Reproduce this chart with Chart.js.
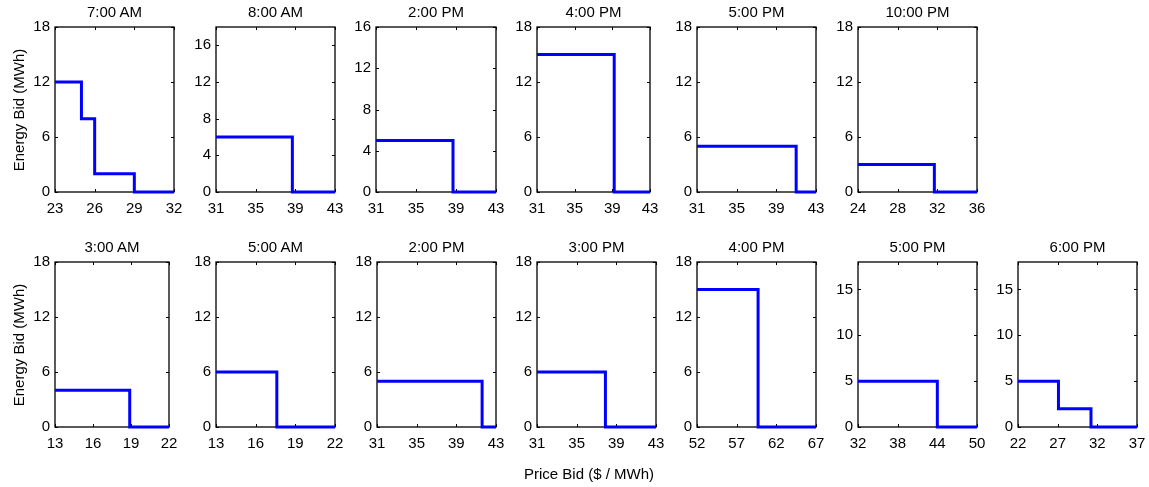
<!DOCTYPE html>
<html>
<head>
<meta charset="utf-8">
<script src="https://cdn.jsdelivr.net/npm/chart.js@4.4.0/dist/chart.umd.min.js"></script>
<style>
body { margin:0; background:#fff; width:1149px; height:487px; position:relative; overflow:hidden; font-family:"Liberation Sans", Arial, sans-serif; }
.lbl { position:absolute; font-size:15px; color:#000; white-space:nowrap; transform:translate(-50%,-50%); }
canvas { position:absolute; }
</style>
</head>
<body>
<script>
// panels: top row (6) then bottom row (7)
var titles = ['7:00 AM', '8:00 AM', '2:00 PM', '4:00 PM', '5:00 PM', '10:00 PM',
              '3:00 AM', '5:00 AM', '2:00 PM', '3:00 PM', '4:00 PM', '5:00 PM', '6:00 PM'];

// price bid steps ($/MWh) and energy bid (MWh) held until the next price
var prices = [
    [23, 25, 26, 29, 32],
    [31, 38.7, 43],
    [31, 38.7, 43],
    [31, 39.2, 43],
    [31, 41, 43],
    [24, 31.7, 36],
    [13, 18.9, 22],
    [13, 17.6, 22],
    [31, 41.6, 43],
    [31, 37.9, 43],
    [52, 59.7, 67],
    [32, 44, 50],
    [22, 27.1, 31.2, 37]
];
var energy = [
    [12, 8, 2, 0, 0],
    [6, 0, 0],
    [5, 0, 0],
    [15, 0, 0],
    [5, 0, 0],
    [3, 0, 0],
    [4, 0, 0],
    [6, 0, 0],
    [5, 0, 0],
    [6, 0, 0],
    [15, 0, 0],
    [5, 0, 0],
    [5, 2, 0, 0]
];

var xTicks = [
    [23, 26, 29, 32], [31, 35, 39, 43], [31, 35, 39, 43], [31, 35, 39, 43], [31, 35, 39, 43], [24, 28, 32, 36],
    [13, 16, 19, 22], [13, 16, 19, 22], [31, 35, 39, 43], [31, 35, 39, 43], [52, 57, 62, 67], [32, 38, 44, 50], [22, 27, 32, 37]
];
var yTicks = [
    [0, 6, 12, 18], [0, 4, 8, 12, 16], [0, 4, 8, 12, 16], [0, 6, 12, 18], [0, 6, 12, 18], [0, 6, 12, 18],
    [0, 6, 12, 18], [0, 6, 12, 18], [0, 6, 12, 18], [0, 6, 12, 18], [0, 6, 12, 18], [0, 5, 10, 15], [0, 5, 10, 15]
];
var yMax = [18, 18, 16, 18, 18, 18, 18, 18, 18, 18, 18, 18, 18];

// plot box of each panel: left, top, width, height (px)
var boxes = [
    [55, 27, 119, 165], [216, 27, 119, 165], [376, 27, 120, 165], [537, 27, 113, 165], [697, 27, 119, 165], [858, 27, 119, 165],
    [55, 262, 114, 165], [216, 262, 119, 165], [377, 262, 119, 165], [537, 262, 119, 165], [697, 262, 119, 165], [858, 262, 119, 165], [1018, 262, 119, 165]
];

var FONT = {family: '"Liberation Sans", Arial, sans-serif', size: 15};
var PADL = 40, PADT = 20, PADR = 24, PADB = 27;

// black box round the plot with small inward ticks on all four sides
var framePlugin = {
    id: 'frame',
    beforeDatasetsDraw: function(chart) {
        var a = chart.chartArea;
        var c = chart.ctx;
        c.save();
        c.strokeStyle = '#000';
        c.lineWidth = 1.3;
        c.strokeRect(a.left, a.top, a.right - a.left, a.bottom - a.top);
        c.lineWidth = 1;
        c.beginPath();
        chart.scales.x.ticks.forEach(function(t) {
            var px = Math.round(chart.scales.x.getPixelForValue(t.value)) + 0.5;
            c.moveTo(px, a.bottom); c.lineTo(px, a.bottom - 3);
            c.moveTo(px, a.top); c.lineTo(px, a.top + 3);
        });
        chart.scales.y.ticks.forEach(function(t) {
            var py = Math.round(chart.scales.y.getPixelForValue(t.value)) + 0.5;
            c.moveTo(a.left, py); c.lineTo(a.left + 3, py);
            c.moveTo(a.right, py); c.lineTo(a.right - 3, py);
        });
        c.stroke();
        c.restore();
    }
};

function addLabel(text, x, y, rotate) {
    var d = document.createElement('div');
    d.className = 'lbl';
    d.textContent = text;
    d.style.left = x + 'px';
    d.style.top = y + 'px';
    if (rotate) {
        d.style.transform = 'translate(-50%,-50%) rotate(-90deg)';
    }
    document.body.appendChild(d);
}

for (var i = 0; i < titles.length; i++) {
    var b = boxes[i];
    var cv = document.createElement('canvas');
    cv.width = PADL + b[2] + PADR;
    cv.height = PADT + b[3] + PADB;
    cv.style.left = (b[0] - PADL) + 'px';
    cv.style.top = (b[1] - PADT) + 'px';
    document.body.appendChild(cv);

    addLabel(titles[i], b[0] + b[2] / 2, b[1] - 16);

    var pts = [];
    for (var k = 0; k < prices[i].length; k++) {
        pts.push({x: prices[i][k], y: energy[i][k]});
    }
    var xt = xTicks[i];
    var yt = yTicks[i];

    new Chart(cv, {
        type: 'line',
        data: {
            datasets: [{
                data: pts,
                stepped: true,
                borderColor: '#0000ff',
                borderWidth: 3,
                borderJoinStyle: 'miter',
                pointRadius: 0,
                fill: false,
                clip: 4
            }]
        },
        options: {
            responsive: false,
            animation: false,
            events: [],
            layout: {padding: {top: PADT, right: PADR, left: 0, bottom: 0}},
            plugins: {legend: {display: false}, tooltip: {enabled: false}},
            scales: {
                x: {
                    type: 'linear',
                    min: xt[0],
                    max: xt[xt.length - 1],
                    grid: {display: false, drawTicks: false},
                    border: {display: false},
                    ticks: {font: FONT, color: '#000', padding: 8, maxRotation: 0, autoSkip: false},
                    afterBuildTicks: (function(arr) { return function(s) { s.ticks = arr.map(function(v) { return {value: v}; }); }; })(xt),
                    afterFit: function(s) { s.height = PADB; }
                },
                y: {
                    min: 0,
                    max: yMax[i],
                    grid: {display: false, drawTicks: false},
                    border: {display: false},
                    ticks: {font: FONT, color: '#000', padding: 5, autoSkip: false},
                    afterBuildTicks: (function(arr) { return function(s) { s.ticks = arr.map(function(v) { return {value: v}; }); }; })(yt),
                    afterFit: function(s) { s.width = PADL; }
                }
            }
        },
        plugins: [framePlugin]
    });
}

addLabel('Energy Bid (MWh)', 18, 110, true);
addLabel('Energy Bid (MWh)', 18, 345, true);
addLabel('Price Bid ($ / MWh)', 589, 473);
</script>
</body>
</html>
